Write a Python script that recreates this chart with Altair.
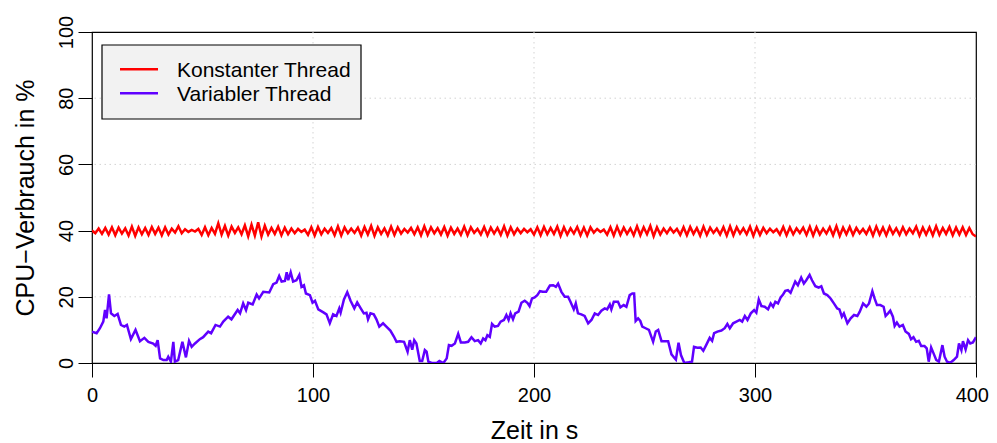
import altair as alt
import pandas as pd

series_names = ["Konstanter Thread", "Variabler Thread"]
series_colors = ["#FF0000", "#6000FF"]

# Konstanter Thread: CPU usage sampled evenly over 0..400 s
konst_cpu = [
    40.0, 39.2, 40.6, 39.0, 40.8, 38.8, 41.0, 38.6, 40.9, 39.1, 40.7, 38.5, 41.2, 38.4, 41.0, 38.9, 40.8, 38.7, 41.1, 39.0,
    40.9, 38.6, 41.0, 38.8, 40.6, 39.4, 41.3, 39.2, 40.4, 39.6, 40.2, 39.7, 40.5, 38.7, 41.0, 38.6, 40.8, 39.0, 42.2, 38.8,
    41.4, 38.5, 41.2, 39.3, 41.0, 38.9, 41.6, 38.3, 41.8, 38.5, 42.5, 38.2, 41.5, 38.8, 40.8, 39.0, 41.2, 38.6, 40.9, 38.9,
    40.6, 39.2, 40.5, 39.6, 40.3, 38.7, 41.0, 38.5, 41.1, 38.9, 40.6, 39.3, 40.8, 38.6, 41.3, 38.5, 41.0, 39.2, 40.6, 39.3,
    40.9, 38.5, 41.1, 38.8, 41.4, 38.4, 41.0, 39.0, 40.7, 38.6, 41.2, 38.7, 41.0, 39.1, 40.5, 39.4, 40.8, 38.9, 41.0, 38.6,
    41.3, 38.7, 41.0, 39.2, 40.7, 38.8, 41.1, 38.5, 40.9, 39.0, 40.6, 38.7, 41.2, 38.6, 41.0, 39.3, 40.5, 38.8, 41.1, 38.6,
    40.9, 39.1, 40.8, 38.7, 41.3, 38.5, 41.0, 38.9, 40.6, 39.2, 40.5, 39.5, 40.4, 38.8, 41.0, 38.6, 41.1, 38.9, 40.8, 39.0,
    41.2, 38.4, 41.0, 38.8, 40.7, 39.1, 41.1, 38.6, 40.9, 38.5, 41.0, 39.4, 40.5, 39.6, 40.3, 38.8, 41.0, 38.5, 41.2, 38.7,
    40.9, 39.0, 40.7, 38.6, 41.3, 38.6, 41.0, 38.9, 41.4, 38.3, 41.0, 38.8, 40.6, 39.2, 40.8, 39.4, 40.5, 38.7, 41.0, 38.6,
    41.1, 39.0, 40.8, 38.5, 41.2, 38.7, 40.9, 39.3, 40.6, 38.8, 41.0, 38.5, 41.3, 38.6, 41.0, 39.1, 40.7, 38.9, 41.2, 38.4,
    41.0, 38.7, 40.8, 39.2, 40.6, 39.5, 40.4, 38.8, 41.1, 38.6, 41.0, 38.9, 40.7, 39.3, 40.9, 38.7, 41.2, 38.5, 41.0, 38.8,
    40.6, 39.1, 41.0, 38.6, 41.3, 38.4, 40.9, 38.9, 41.1, 38.7, 40.8, 39.2, 40.5, 39.0, 41.0, 38.5, 41.2, 38.8, 40.9, 38.6,
    41.1, 39.0, 40.7, 38.7, 41.0, 38.9, 40.6, 39.2, 41.2, 38.5, 40.9, 38.8, 41.0, 38.6, 41.3, 38.7, 40.8, 39.0, 41.1, 38.6,
    40.9, 38.8, 41.0, 38.7, 40.8, 38.9, 38.2,
]

# Variabler Thread: sample times (s) and CPU usage (%)
var_time = [
    0, 2.1, 3.6, 5.1, 5.9, 6.6, 7.7, 8.6, 10.1, 11.6, 13.1, 14.6, 15.8, 17.6, 19.7, 21.7, 23.7, 25.5, 27.7, 28.8,
    29.7, 30.8, 32.3, 33.8, 34.5, 35.7, 36.8, 37.5, 39, 40.9, 42.5, 43.9, 45.1, 46.6, 48.8, 50.3, 52.6, 53.9, 55.9, 57.9,
    59.4, 61.6, 63.1, 65.9, 67, 68.4, 69.7, 70.7, 72.7, 74.5, 75.6, 77.5, 80.2, 82, 83.5, 84.7, 85.8, 87.3, 88.1, 88.8,
    89.9, 91, 92.5, 93.8, 94.8, 95.9, 96.8, 98.6, 99.8, 100.9, 102.4, 104.7, 106.1, 107.6, 109.1, 110.6, 111.9, 112.5, 114, 115.5,
    117, 118.7, 120, 121.6, 123, 124.2, 124.9, 126, 127.5, 128.7, 130, 131.7, 133.2, 135, 136.6, 137.8, 139.3, 141.2, 142.8, 143.8,
    144.9, 145.8, 146.8, 148.3, 149.4, 150.6, 151.4, 152.2, 153.7, 156, 157.2, 159, 160.5, 161.5, 162.7, 164.2, 165.7, 166.9, 168.7, 170.2,
    171.7, 173.2, 174.7, 175.9, 177, 178, 178.9, 180, 181, 182.2, 183.7, 184.9, 186.4, 187.5, 188.5, 189.4, 190.5, 191.5, 193, 194.3,
    195.8, 197, 198, 199.1, 200.3, 201.5, 202.7, 204, 205.5, 207.2, 208.7, 209.9, 210.9, 212.4, 213.9, 215.4, 216.5, 218, 218.9, 219.9,
    221.4, 222.9, 224.5, 226, 227.5, 229, 230.5, 232, 233.1, 234.3, 235, 236.1, 238, 239.1, 240.6, 241.8, 243.3, 244.5, 245.3, 246,
    247.1, 248.1, 249, 250.5, 252, 253.9, 255.1, 256.2, 257.7, 259.2, 260.7, 262.2, 264.2, 265.4, 266.5, 268, 270, 271.5, 272.4, 273.9,
    275.4, 276.6, 277.9, 279.5, 280.6, 281.5, 283, 284.8, 286.3, 287.5, 288.6, 290.1, 291.6, 293.1, 294.2, 295.4, 296.6, 298.1, 299.6, 300.6,
    301.7, 302.9, 304.4, 305.9, 307.1, 308.2, 309.2, 310.4, 311.6, 312.7, 313.7, 314.9, 316.1, 317.2, 318.2, 319.4, 320.9, 322.1, 323.2, 324.7,
    325.8, 327.3, 328.8, 330, 331.2, 332.7, 334.2, 335.7, 337.2, 338.2, 339.3, 340.2, 341.8, 343.3, 344.8, 346.3, 347.4, 348.9, 350.4, 351.6,
    353.1, 354.1, 355.2, 356.7, 358.2, 359.1, 360.2, 361.2, 362.4, 363.2, 364.2, 365.4, 366.9, 368.1, 369.6, 370.6, 371.7, 372.9, 374.1, 375.2,
    376.7, 377.7, 378.6, 379.7, 380.8, 382, 383.2, 384.8, 385.8, 386.9, 388.4, 389.9, 391.4, 392.3, 393.4, 394.1, 395.3, 396.4, 397.4, 398.6,
    400,
]
var_cpu = [
    9.5, 9.0, 10.5, 12.5, 16, 13.5, 20.7, 15, 14.2, 14.8, 11.5, 11, 11.5, 7.2, 10, 6.6, 7.6, 6.4, 5.9, 5.2,
    6.9, 1.4, 0.9, 0.9, 1.9, 0.4, 6.4, 0.4, 0.9, 6.4, 1.7, 6.7, 4.9, 5.9, 7.2, 7.8, 9.5, 9.0, 11.5, 11,
    12.5, 14, 13.2, 16, 15, 18, 16, 18.2, 17.7, 20.7, 19.5, 21.5, 21.3, 23.8, 24.3, 26.3, 24.6, 24.8, 27.4, 25,
    27.4, 24.6, 25, 26.6, 23, 23.5, 21, 20.5, 18.2, 18.8, 16.2, 15.3, 14.7, 12, 14.7, 14.2, 16.5, 15.2, 19.2, 21.4,
    18.8, 16.5, 18.3, 16.5, 15, 15.2, 13.2, 15, 14.7, 13.2, 11, 12, 11, 9.8, 8, 6.4, 6.6, 6.4, 3.4, 6.9,
    4, 6.9, 5.9, 0.6, 0.6, 3.9, 3.4, 0.4, 0, 0, 0.6, 0, 1.4, 5.4, 5.2, 5.9, 8.8, 6.2, 6.2, 6.4,
    7.8, 6.6, 6.9, 5.9, 7.4, 6.9, 8.4, 7.9, 11.8, 11, 11.2, 12.5, 13, 14.5, 13, 15, 13.2, 15, 15.5, 18.2,
    18.8, 18.2, 17.2, 19.5, 19.8, 20.5, 21.7, 21.5, 21.5, 23.4, 23.5, 23, 24, 21.5, 20, 20, 18.5, 16.2, 18, 15,
    14.7, 14.2, 12, 13, 15, 14.5, 15.8, 16.5, 16.2, 17.7, 16.2, 18.5, 18.5, 16.8, 17.5, 17, 20.5, 21, 21, 12.7,
    13.5, 12.7, 11, 10.5, 10, 6.4, 9.5, 10, 6.6, 6.6, 6.6, 2.6, 1, 6.1, 2.4, 0, 0.2, 0.4, 4.9, 4.6,
    4.7, 3.7, 5.4, 7.6, 6.7, 9, 9.5, 9.8, 10.5, 11.8, 10.5, 12, 12.5, 13, 12.5, 14.2, 13, 15, 16, 15.2,
    19.2, 17.2, 17, 16.2, 18, 17, 18.5, 18, 19.8, 20.7, 21.8, 22, 21.2, 23, 24.6, 23.5, 25.8, 24, 25, 26.6,
    25, 23.2, 22.8, 23.2, 21, 20.5, 19.5, 18, 16.5, 16.2, 14, 15, 12, 13.5, 14.5, 14.2, 15.5, 18, 17, 18,
    21.7, 19.5, 17.5, 17.5, 17, 14.2, 15, 15.8, 14, 11.2, 12.2, 11, 11.5, 9.5, 8.8, 7.2, 7.8, 6.4, 6.7, 5.1,
    5.1, 4.4, 0.4, 4.7, 2.9, 0.9, 0.4, 5.4, 1.9, 0.4, 0.1, 0.9, 1.9, 5.9, 3.9, 6.6, 4.1, 6.9, 5.9, 6.2,
    7.8,
]

x_ticks = [0, 100, 200, 300, 400]
y_ticks = [0, 20, 40, 60, 80, 100]
x_grid = [100, 200, 300]
y_grid = [20, 40, 60, 80]

FONT = "Liberation Sans"

n = len(konst_cpu)
konst_time = [i * 400 / (n - 1) for i in range(n)]

df = pd.concat([
    pd.DataFrame({"Zeit": konst_time, "CPU": konst_cpu, "Serie": series_names[0]}),
    pd.DataFrame({"Zeit": var_time, "CPU": var_cpu, "Serie": series_names[1]}),
], ignore_index=True)

xscale = alt.Scale(domain=[0, 400], nice=False, zero=False)
yscale = alt.Scale(domain=[0, 100], nice=False)

last_x = "datum.value == 400"
x_axis = alt.Axis(
    values=x_ticks, grid=False, domain=False, tickSize=14, tickColor="black", tickWidth=1,
    labelFont=FONT, labelFontSize=20, labelColor="black", labelPadding=8, labelFlush=False,
    labelOverlap=False, labelBaseline="top",
    labelAlign={"condition": {"test": last_x, "value": "right"}, "value": "center"},
    labelOffset={"condition": {"test": last_x, "value": 12.5}, "value": 0},
    title="Zeit in s", titleFont=FONT, titleFontSize=25, titleFontWeight="normal", titleColor="black",
    titleX=442, titleY=75, titleAlign="center", titleBaseline="alphabetic",
)
y_axis = alt.Axis(
    values=y_ticks, grid=False, domain=False, tickSize=14, tickColor="black", tickWidth=1,
    labelFont=FONT, labelFontSize=20, labelColor="black", labelPadding=6, labelFlush=False,
    labelOverlap=False, labelAngle=270, labelAlign="center", labelBaseline="alphabetic",
    title="CPU\u2212Verbrauch in %", titleFont=FONT, titleFontSize=25, titleFontWeight="normal",
    titleColor="black", titleAngle=270, titleX=-59, titleY=165.5, titleAlign="center",
    titleBaseline="alphabetic",
)

lines = alt.Chart(df).mark_line(strokeWidth=2.5, clip=True).encode(
    x=alt.X("Zeit:Q", scale=xscale, axis=x_axis),
    y=alt.Y("CPU:Q", scale=yscale, axis=y_axis),
    color=alt.Color("Serie:N", scale=alt.Scale(domain=series_names, range=series_colors), legend=None),
    order=alt.Order("Zeit:Q"),
)

grid_v = alt.Chart(pd.DataFrame({"Zeit": x_grid})).mark_rule(
    color="#d3d3d3", strokeDash=[1.5, 3.5], strokeWidth=1
).encode(x=alt.X("Zeit:Q", scale=xscale, axis=x_axis))

grid_h = alt.Chart(pd.DataFrame({"CPU": y_grid})).mark_rule(
    color="#d3d3d3", strokeDash=[1.5, 3.5], strokeWidth=1
).encode(y=alt.Y("CPU:Q", scale=yscale, axis=y_axis))

one = pd.DataFrame({"k": [0]})
leg_box = alt.Chart(one).mark_rect(fill="#f2f2f2", stroke="black", strokeWidth=1.2).encode(
    x=alt.value(10), x2=alt.value(269), y=alt.value(13), y2=alt.value(87)
)
leg_line1 = alt.Chart(one).mark_rule(color=series_colors[0], strokeWidth=2.5).encode(
    x=alt.value(28), x2=alt.value(66), y=alt.value(37.3)
)
leg_line2 = alt.Chart(one).mark_rule(color=series_colors[1], strokeWidth=2.5).encode(
    x=alt.value(28), x2=alt.value(66), y=alt.value(61.3)
)
leg_text1 = alt.Chart(one).mark_text(
    align="left", baseline="alphabetic", font=FONT, fontSize=21, color="black"
).encode(x=alt.value(85), y=alt.value(44.7), text=alt.value(series_names[0]))
leg_text2 = alt.Chart(one).mark_text(
    align="left", baseline="alphabetic", font=FONT, fontSize=21, color="black"
).encode(x=alt.value(85), y=alt.value(68.7), text=alt.value(series_names[1]))

chart = alt.layer(
    grid_v, grid_h, lines, leg_box, leg_line1, leg_line2, leg_text1, leg_text2
).properties(
    width=884, height=331,
    padding={"left": 84, "top": 24, "right": 13, "bottom": 80},
    autosize=alt.AutoSizeParams(type="none"),
    background="white",
).configure_view(
    stroke="black", strokeWidth=1.2
)

chart.save("out.html", embed_options={"renderer": "svg", "actions": False})
